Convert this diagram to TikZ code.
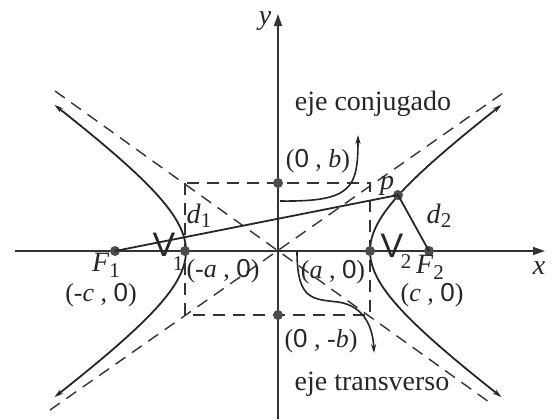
\documentclass[tikz,border=0pt]{standalone}
\usepackage{fontspec}
\setmainfont{Liberation Serif}
\newfontfamily\hsans{Liberation Sans}
\usetikzlibrary{arrows.meta}
\begin{document}
\begin{tikzpicture}[x=0.5pt,y=-0.5pt,
  every node/.style={font=\fontsize{14}{16}\selectfont, inner sep=0pt, text=black!85},
  coord/.style={font=\fontsize{13}{15}\selectfont},
  dot/.style={circle,fill=black!70,minimum size=5pt,inner sep=0pt},
  curve/.style={line width=0.9pt, draw=black!85},
  axisline/.style={line width=0.75pt, draw=black!80, -{Triangle[length=6pt,width=4pt]}},
  dashline/.style={dash pattern=on 6pt off 4pt, line width=0.7pt, draw=black!80},
  tip/.style={-{Stealth[length=4.5pt,width=2.6pt]}},
  vlab/.style={font=\fontsize{17}{18}\selectfont\hsans},
  sub/.style={font=\fontsize{10.5}{12}\selectfont},
]
\useasboundingbox (0,0) rectangle (552,419);

% axes
\coordinate (xs) at (15,251);
\coordinate (xe) at (545,251);
\coordinate (ys) at (278,419);
\coordinate (ye) at (278,14);
\draw[axisline] (xs) -- (xe);
\draw[axisline] (ys) -- (ye);
\node (ylab) at (265,21) {\textit{y}};
\node (xlab) at (539,268) {\textit{x}};

% asymptotes
\coordinate (a1) at (55,91);
\coordinate (a2) at (489,402);
\coordinate (a3) at (50,410);
\coordinate (a4) at (503,93);
\draw[dashline] (a1) -- (a2);
\draw[dashline] (a3) -- (a4);

% box
\coordinate (b1) at (185,183);
\coordinate (b2) at (370,315);
\draw[dashline] (b1) rectangle (b2);

% hyperbola
\draw[curve, {Stealth[length=4.5pt,width=2.6pt]}-{Stealth[length=4.5pt,width=2.6pt]}]
  plot[smooth, samples=60, domain=-1.535:1.535, variable=\t] ({278+46*(exp(\t)+exp(-\t))},{251-33*(exp(\t)-exp(-\t))});
\draw[curve, {Stealth[length=4.5pt,width=2.6pt]}-{Stealth[length=4.5pt,width=2.6pt]}]
  plot[smooth, samples=60, domain=-1.535:1.535, variable=\t] ({278-46*(exp(\t)+exp(-\t))},{251-33*(exp(\t)-exp(-\t))});

% points
\node[dot] (F1) at (115,251) {};
\node[dot] (V1) at (185,251) {};
\node[dot] (V2) at (370,251) {};
\node[dot] (F2) at (429,251) {};
\node[dot] (B1) at (278,183) {};
\node[dot] (B2) at (278,315) {};
\node[dot] (P) at (398,195) {};

\draw[curve] (F1.center) -- (P.center);
\draw[curve] (P.center) -- (F2.center);

% axis-name arrows
\coordinate (c0) at (280,201);
\coordinate (c1) at (358,135);
\draw[curve, line width=0.8pt, tip] (c0) .. controls (352,202) and (358,188) .. (c1);
\coordinate (t0) at (297,251);
\coordinate (tm) at (338,302);
\coordinate (t1) at (374,353);
\draw[curve, line width=0.8pt, tip] (t0) .. controls (297,300) and (312,299) .. (tm)
  .. controls (366,306) and (373,330) .. (t1);

% labels
\node (conj) at (373,104) {eje conjugado};
\node (trans) at (372,384) {eje transverso};
\node[coord] (lb) at (318,161) {({\hsans 0} , \textit{b})};
\node[coord] (lmb) at (321,341) {({\hsans 0} , -\textit{b})};
\node (lp) at (387,186) {\textit{p}};
\node (ld1) at (199,216) {\textit{d}\raisebox{-0.35ex}{\fontsize{10.5}{12}\selectfont 1}};
\node (ld2) at (439,216) {\textit{d}\raisebox{-0.35ex}{\fontsize{10.5}{12}\selectfont 2}};
\node[vlab] (lV1) at (164,245) {V};
\node[sub] (lV1s) at (178,264) {1};
\node[vlab] (lV2) at (392,246) {V};
\node[sub] (lV2s) at (406,262) {2};
\node (lF1) at (106,265) {\textit{F}\raisebox{-0.45ex}{\fontsize{10.5}{12}\selectfont 1}};
\node (lF2) at (430,267) {\textit{F}\raisebox{-0.45ex}{\fontsize{10.5}{12}\selectfont 2}};
\node[coord] (lmc) at (101,295) {(-\textit{c} , {\hsans 0})};
\node[coord] (lma) at (223,271) {(-\textit{a} , {\hsans 0})};
\node[coord] (la) at (333,272) {(\textit{a} , {\hsans 0})};
\node[coord] (lc) at (432,295) {(\textit{c} , {\hsans 0})};
\end{tikzpicture}
\end{document}
